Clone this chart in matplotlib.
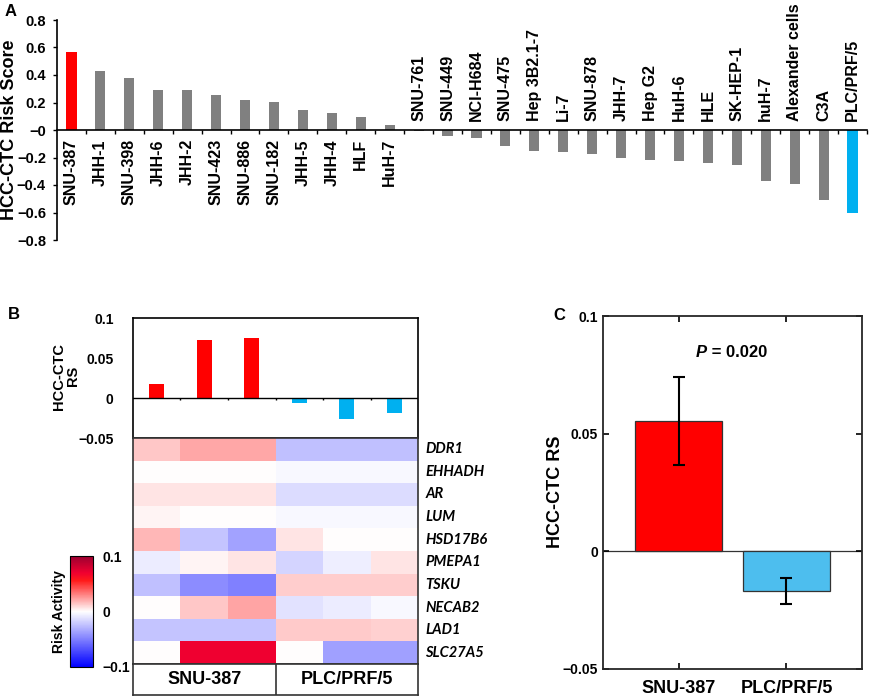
"""
HCC-CTC risk score across cell lines, per-replicate heatmap and group comparison
"""

import numpy as np
import matplotlib
matplotlib.use('Agg')
import matplotlib.pyplot as plt
from matplotlib.colors import LinearSegmentedColormap

plt.rcParams['font.family'] = ['Liberation Sans', 'DejaVu Sans']
plt.rcParams['font.weight'] = 'bold'

# Panel A data
cell_lines = ['SNU-387', 'JHH-1', 'SNU-398', 'JHH-6', 'JHH-2', 'SNU-423', 'SNU-886',
              'SNU-182', 'JHH-5', 'JHH-4', 'HLF', 'HuH-7', 'SNU-761', 'SNU-449',
              'NCI-H684', 'SNU-475', 'Hep 3B2.1-7', 'Li-7', 'SNU-878', 'JHH-7',
              'Hep G2', 'HuH-6', 'HLE', 'SK-HEP-1', 'huH-7', 'Alexander cells',
              'C3A', 'PLC/PRF/5']
risk_score = [0.568, 0.429, 0.378, 0.293, 0.290, 0.256, 0.215, 0.202, 0.149, 0.124,
              0.093, 0.039, -0.004, -0.044, -0.061, -0.115, -0.151, -0.159, -0.171,
              -0.205, -0.220, -0.227, -0.241, -0.256, -0.373, -0.390, -0.512, -0.607]

# Panel B data
replicate_rs = [0.018, 0.0725, 0.0754, -0.0067, -0.026, -0.019]
genes = ['DDR1', 'EHHADH', 'AR', 'LUM', 'HSD17B6', 'PMEPA1', 'TSKU', 'NECAB2',
         'LAD1', 'SLC27A5']
# rows = genes, columns = SNU-387 x3, PLC/PRF/5 x3
risk_activity = [
    [0.014, 0.0215, 0.0215, -0.025, -0.025, -0.025],
    [0.0, 0.0, 0.0, -0.003, -0.003, -0.003],
    [0.0065, 0.0065, 0.0065, -0.014, -0.014, -0.014],
    [0.0027, 0.0, 0.0, -0.003, -0.003, -0.003],
    [0.0175, -0.023, -0.036, 0.0065, 0.0, 0.0],
    [-0.0075, 0.0027, 0.0065, -0.017, -0.007, 0.0065],
    [-0.025, -0.045, -0.050, 0.012, 0.012, 0.012],
    [0.0, 0.014, 0.022, -0.011, -0.0075, -0.003],
    [-0.023, -0.023, -0.023, 0.013, 0.013, 0.011],
    [0.0, 0.070, 0.070, 0.0, -0.037, -0.037],
]
groups = ['SNU-387', 'PLC/PRF/5']

# Panel C data
group_mean = [0.0555, -0.0169]
group_err = [0.0187, 0.0056]
p_value = 0.020

RED = '#ff0000'
BLUE = '#00b0f0'
GRAY = '#808080'

W, H = 870, 699


def rect(x0, y0, x1, y1):
    """Pixel box (top-left origin) to figure fraction rect"""
    return [x0 / W, 1 - y1 / H, (x1 - x0) / W, (y1 - y0) / H]


def fmt(v):
    s = f'{v:g}'
    return s.replace('-', '\u2212')


fig = plt.figure(figsize=(8.7, 6.99), dpi=100)

# ---------------- Panel A ----------------
ax = fig.add_axes(rect(57, 20, 867, 240))
n = len(cell_lines)
x = np.arange(n)
colors = [GRAY] * n
colors[0] = RED
colors[-1] = BLUE
ax.bar(x, risk_score, width=0.35, color=colors)
ax.set_xlim(-0.5, n - 0.5)
ax.set_ylim(-0.8, 0.8)
for s in ['top', 'right']:
    ax.spines[s].set_visible(False)
ax.spines['bottom'].set_position(('data', 0))
ax.spines['bottom'].set_linewidth(1.2)
ax.spines['left'].set_linewidth(1.2)
ax.set_xticks(x + 0.5)
ax.set_xticklabels([])
ax.tick_params(axis='x', direction='out', length=3, width=1)
yt = np.round(np.arange(-0.8, 0.81, 0.2), 1)
ax.set_yticks(yt)
ax.set_yticklabels([fmt(v) for v in yt], fontsize=10.5)
ax.tick_params(axis='y', length=3, width=1, pad=5)
for i, (name, v) in enumerate(zip(cell_lines, risk_score)):
    if v >= 0:
        ax.annotate(name, (i, 0), xytext=(0, -9), textcoords='offset pixels',
                    rotation=90, ha='center', va='top', fontsize=11.5)
    else:
        ax.annotate(name, (i, 0), xytext=(0, 9), textcoords='offset pixels',
                    rotation=90, ha='center', va='bottom', fontsize=11.5)
fig.text(10 / W, 1 - 130 / H, 'HCC-CTC Risk Score', rotation=90,
         ha='center', va='center', fontsize=13)

# ---------------- Panel B: replicate bars ----------------
axb = fig.add_axes(rect(133, 318, 418, 438))
xb = np.arange(len(replicate_rs))
axb.bar(xb, replicate_rs, width=0.32, color=[RED] * 3 + [BLUE] * 3)
axb.set_xlim(-0.5, len(replicate_rs) - 0.5)
axb.set_ylim(-0.05, 0.1)
axb.axhline(0, color='black', lw=1)
axb.vlines(xb[:-1] + 0.5, -0.003, 0, color='black', lw=1)
axb.set_xticks([])
bt = [-0.05, 0, 0.05, 0.1]
axb.set_yticks(bt)
axb.set_yticklabels([fmt(v) for v in bt], fontsize=10)
axb.tick_params(axis='y', length=0, pad=14)
for s in axb.spines.values():
    s.set_linewidth(1.2)
fig.text(66 / W, 1 - 376 / H, 'HCC-CTC\nRS', rotation=90, ha='center',
         va='center', fontsize=10.5, linespacing=1.0)

# ---------------- Panel B: heatmap ----------------
cmap = LinearSegmentedColormap.from_list(
    'riskmap', [(0.0, '#0000ff'), (0.5, '#ffffff'), (0.78, '#ff1a1a'),
                (0.85, '#f00030'), (1.0, '#9b0030')])
axh = fig.add_axes(rect(133, 438, 418, 664))
mesh = axh.pcolormesh(np.array(risk_activity), cmap=cmap, vmin=-0.1, vmax=0.1)
axh.set_xlim(0, 6)
axh.set_ylim(len(genes), 0)
axh.set_xticks([])
axh.set_yticks([])
for s in axh.spines.values():
    s.set_linewidth(1.2)
    s.set_color('#333333')
for i, g in enumerate(genes):
    axh.text(6.15, i + 0.5, g, ha='left', va='center', fontsize=10.5,
             family='Lato', fontstyle='italic', fontweight='bold', clip_on=False)

axg = fig.add_axes(rect(133, 664, 418, 695))
axg.set_xlim(0, 2)
axg.set_ylim(0, 1)
axg.axvline(1, color='#333333', lw=1.2)
axg.set_xticks([])
axg.set_yticks([])
for s in axg.spines.values():
    s.set_linewidth(1.2)
    s.set_color('#333333')
for i, g in enumerate(groups):
    axg.text(i + 0.5, 0.5, g, ha='center', va='center', fontsize=13)

# colorbar
axc = fig.add_axes(rect(70, 556, 93, 667))
cb = fig.colorbar(mesh, cax=axc, ticks=[-0.1, 0, 0.1])
cb.ax.set_yticklabels([fmt(v) for v in [-0.1, 0, 0.1]], fontsize=10)
cb.ax.tick_params(length=0, pad=7)
cb.outline.set_linewidth(0.8)
fig.text(59 / W, 1 - 612 / H, 'Risk Activity', rotation=90, ha='center',
         va='center', fontsize=10)

# ---------------- Panel C ----------------
axC = fig.add_axes(rect(603, 316, 862, 669))
xc = np.arange(1, len(groups) + 1)
axC.axhline(0, color='#333333', lw=0.9, zorder=1)
axC.bar(xc, group_mean, width=0.8, color=[RED, '#4dbeee'], edgecolor='#333333',
        linewidth=0.9, zorder=2)
axC.errorbar(xc, group_mean, yerr=group_err, fmt='none', ecolor='black',
             elinewidth=1.5, capsize=4, capthick=1.5, zorder=3)
axC.set_xlim(0.3, 2.7)
axC.set_ylim(-0.05, 0.1)
axC.set_xticks(xc)
axC.set_xticklabels(groups, fontsize=13)
ct = [-0.05, 0, 0.05, 0.1]
axC.set_yticks(ct)
axC.set_yticklabels([fmt(v) for v in ct], fontsize=10)
axC.tick_params(direction='in', top=True, right=True, length=4, width=1.2)
axC.tick_params(axis='x', pad=8)
for s in axC.spines.values():
    s.set_linewidth(1.3)
    s.set_color('#262626')
axC.text(1.263, 0.0847, 'P', ha='right', va='center', fontsize=12,
         fontstyle='italic')
axC.text(1.263, 0.0847, f' = {p_value:.3f}', ha='left', va='center', fontsize=12)
fig.text(556 / W, 1 - 492 / H, 'HCC-CTC RS', rotation=90, ha='center',
         va='center', fontsize=13)

# panel letters
fig.text(5 / W, 1 - 11 / H, 'A', ha='left', va='center', fontsize=12)
fig.text(8 / W, 1 - 314 / H, 'B', ha='left', va='center', fontsize=12)
fig.text(553 / W, 1 - 315 / H, 'C', ha='left', va='center', fontsize=12)

fig.savefig('out.png', dpi=100)
